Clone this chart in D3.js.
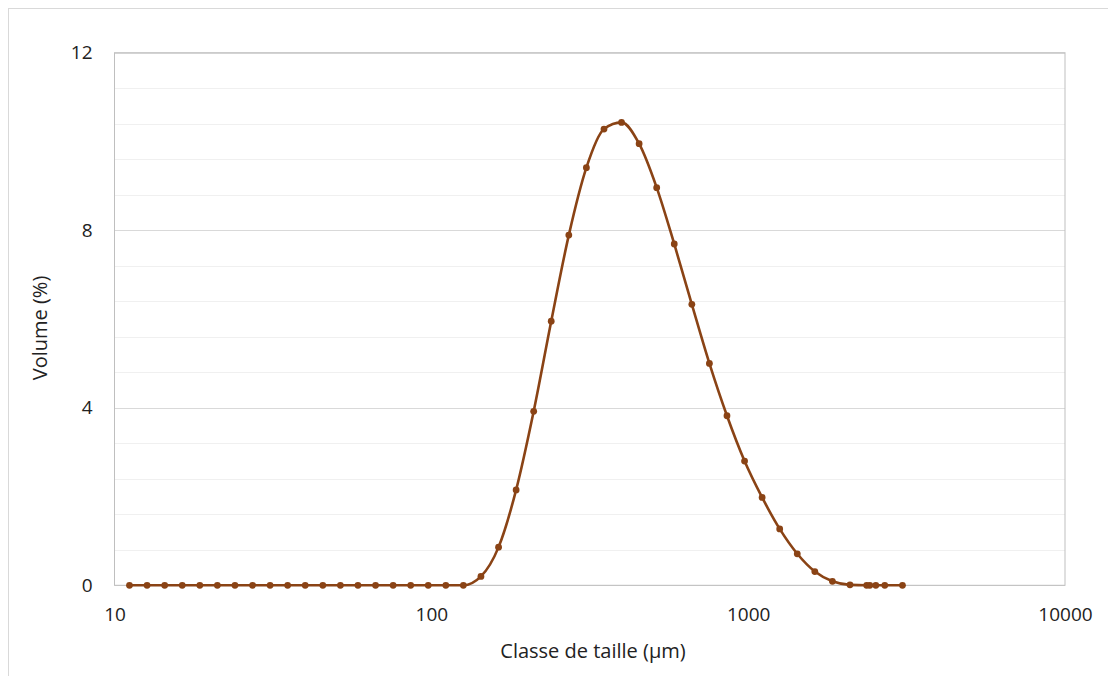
<!DOCTYPE html>
<html><head><meta charset="utf-8">
<script src="https://cdn.jsdelivr.net/npm/d3@7"></script>
<style>body{margin:0;background:#fff}svg{display:block}</style>
</head><body>
<svg id="c" width="1108" height="676"></svg>
<script>
const sizes = [11.15,12.67,14.40,16.36,18.59,21.12,24.00,27.27,30.98,35.20,39.99,45.45,51.64,58.67,66.67,75.75,86.07,97.77,111.1,126.2,
  143.4,163.0,185.2,210.4,239.0,271.6,308.6,350.7,398.4,452.7,514.4,584.4,664.1,754.5,857.3,974.1,1106.7,1257.5,1428.8,1623.5,1844.6,2095.9,
  2366,2421,2529,2699,3069];
const volumes = [0,0,0,0,0,0,0,0,0,0,0,0,0,0,0,0,0,0,0,0,
  0.2,0.86,2.15,3.92,5.95,7.89,9.41,10.28,10.43,9.95,8.96,7.69,6.33,5.0,3.82,2.80,1.98,1.27,0.71,0.31,0.09,0.01,
  0,0,0,0,0];
const xTicks = [10,100,1000,10000];
const yTicks = [0,4,8,12];
const yMinor = [0.8,1.6,2.4,3.2,4.8,5.6,6.4,7.2,8.8,9.6,10.4,11.2];
const xTitle = "Classe de taille (µm)";
const yTitle = "Volume (%)";

const svg = d3.select("#c");
const L=114.5, R=1065, T=52.7, B=585.3;
const x = d3.scaleLog().domain([10,10000]).range([L,R]);
const y = d3.scaleLinear().domain([0,12]).range([B,T]);
const font = "'Open Sans', sans-serif";
const col = "#8A4315";

// outer border
svg.append("rect").attr("x",8.5).attr("y",8.5).attr("width",1120).attr("height",700)
  .attr("fill","none").attr("stroke","#d9d9d9");

// minor grid
svg.append("g").selectAll("line").data(yMinor).join("line")
  .attr("x1",L).attr("x2",R).attr("y1",d=>Math.round(y(d))+0.5).attr("y2",d=>Math.round(y(d))+0.5)
  .attr("stroke","#f0f0f0");
// major grid
svg.append("g").selectAll("line").data(yTicks).join("line")
  .attr("x1",L).attr("x2",R).attr("y1",d=>Math.round(y(d))+0.5).attr("y2",d=>Math.round(y(d))+0.5)
  .attr("stroke","#d9d9d9");
// plot border
svg.append("rect").attr("x",L).attr("y",T).attr("width",R-L).attr("height",B-T)
  .attr("fill","none").attr("stroke","#bfbfbf");

// axes labels
const yAxis = d3.axisLeft(y).tickValues(yTicks).tickSize(0).tickPadding(22).tickFormat(d3.format("d"));
const gy = svg.append("g").attr("transform",`translate(${L},0)`).call(yAxis);
gy.select(".domain").remove();
gy.selectAll("text").attr("font-family",font).attr("font-size",19).attr("fill","#222");

const xAxis = d3.axisBottom(x).tickValues(xTicks).tickSize(0).tickPadding(22).tickFormat(d3.format("d"));
const gx = svg.append("g").attr("transform",`translate(0,${B})`).call(xAxis);
gx.select(".domain").remove();
gx.selectAll("text").attr("font-family",font).attr("font-size",19).attr("fill","#222");

// titles
svg.append("text").attr("x",593).attr("y",658).attr("text-anchor","middle")
  .attr("font-family",font).attr("font-size",20).attr("fill","#222").text(xTitle);
svg.append("text").attr("transform",`translate(47,328) rotate(-90)`).attr("text-anchor","middle")
  .attr("font-family",font).attr("font-size",20).attr("fill","#222").text(yTitle);

// data
const data = sizes.map((s,i)=>({s, v: volumes[i]}));
const line = d3.line().x(d=>x(d.s)).y(d=>y(d.v)).curve(d3.curveMonotoneX);
svg.append("path").datum(data).attr("d",line).attr("fill","none").attr("stroke",col).attr("stroke-width",2.6);
svg.append("g").selectAll("circle").data(data).join("circle")
  .attr("cx",d=>x(d.s)).attr("cy",d=>y(d.v)).attr("r",3.4).attr("fill",col);
</script>
</body></html>
